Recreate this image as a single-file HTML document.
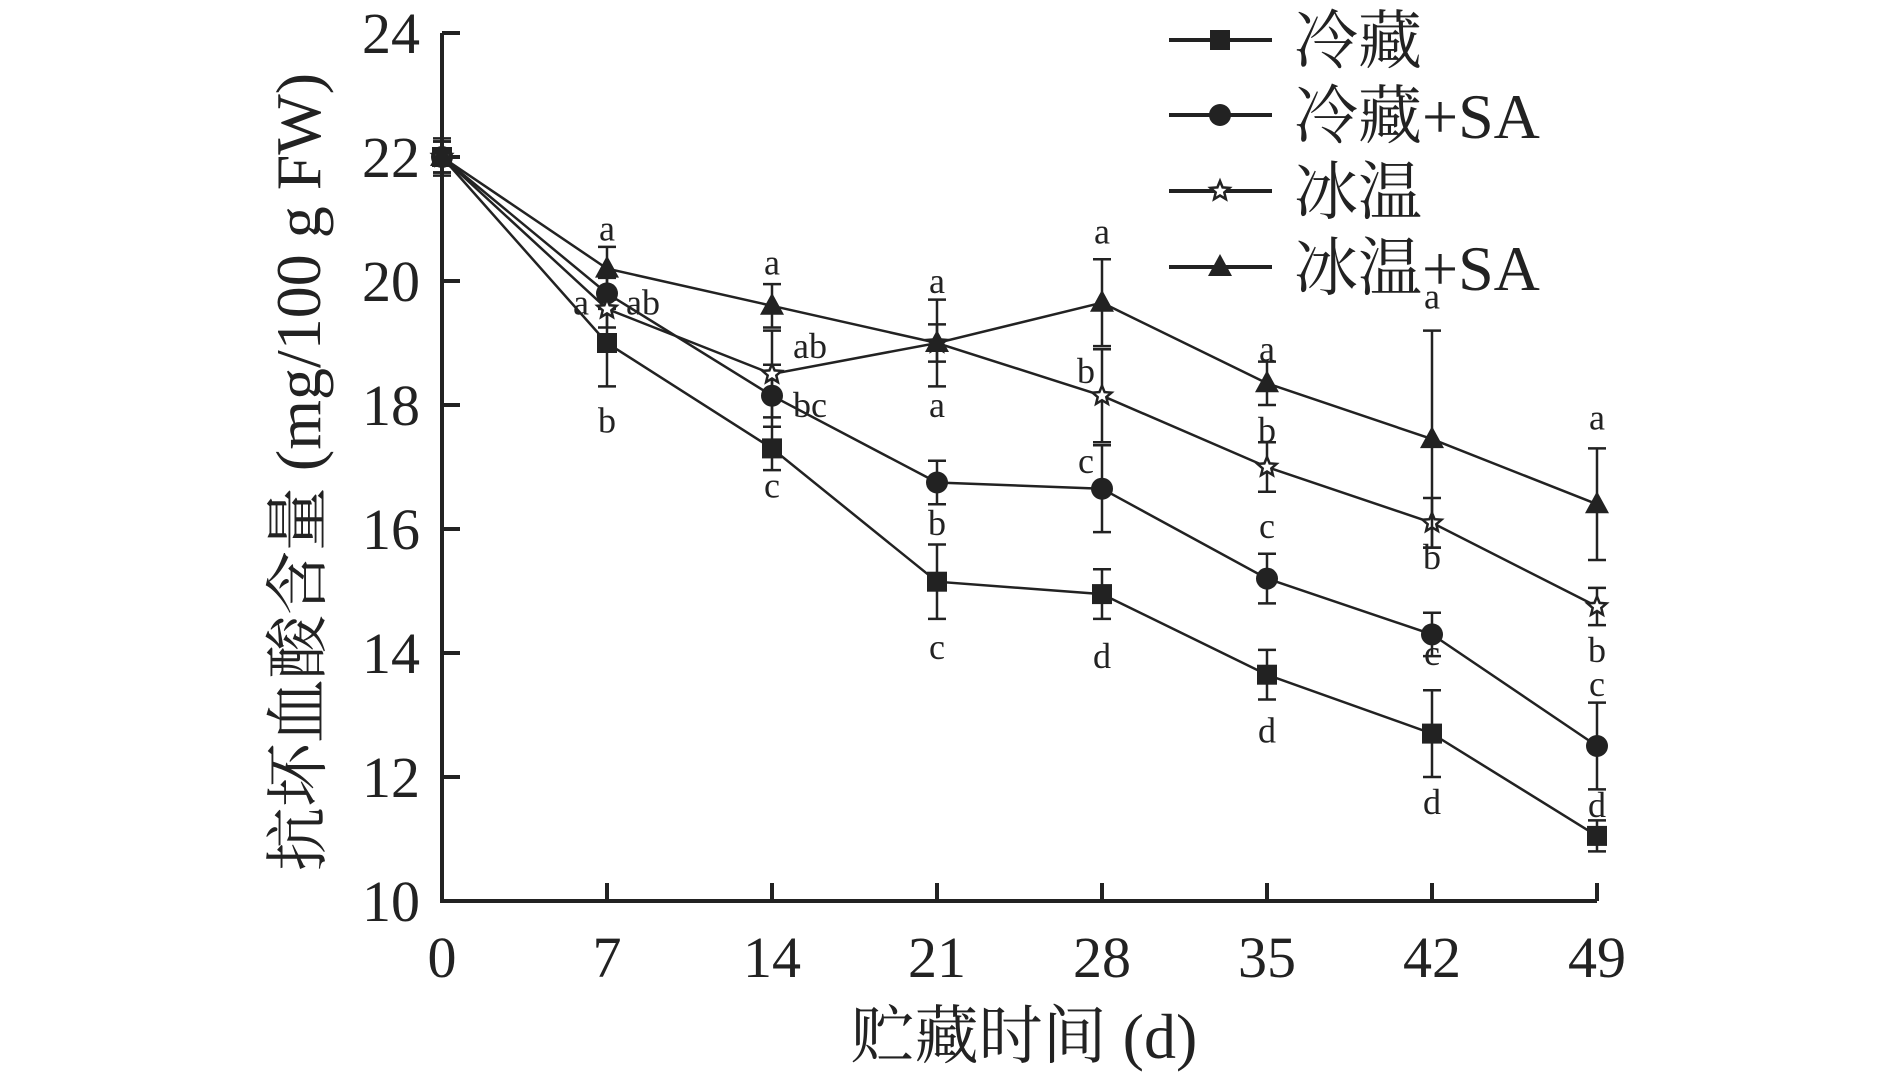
<!DOCTYPE html>
<html><head><meta charset="utf-8"><style>
html,body{margin:0;padding:0;background:#fff;}
svg{display:block;font-family:"Liberation Serif","Noto Serif CJK SC",serif;}
</style></head><body>
<svg id="chart" width="1890" height="1075" viewBox="0 0 1890 1075" xmlns="http://www.w3.org/2000/svg"></svg>
<script>
const days=[0,7,14,21,28,35,42,49];
const yTicks=[10,12,14,16,18,20,22,24];
const seriesNames=["冷藏","冷藏+SA","冰温","冰温+SA"];
const lc=[22,19.0,17.3,15.15,14.95,13.65,12.7,11.05];
const lcErr=[0.25,0.7,0.35,0.6,0.4,0.4,0.7,0.25];
const lcsa=[22,19.8,18.15,16.75,16.65,15.2,14.3,12.5];
const lcsaErr=[0.25,0.25,0.5,0.35,0.7,0.4,0.35,0.7];
const bw=[22,19.55,18.5,19.0,18.15,17.0,16.1,14.75];
const bwErr=[0.25,0.3,0.7,0.3,0.75,0.4,0.4,0.3];
const bwsa=[22,20.2,19.6,19.0,19.65,18.35,17.45,16.4];
const bwsaErr=[0.3,0.35,0.35,0.7,0.7,0.35,1.75,0.9];
const letterText=["a","a","ab","b","a","ab","bc","c","a","a","b","c","a","b","c","d","a","b","c","d","a","b","c","d","a","b","c","d"];
const letterDay=[7,7,7,7,14,14,14,14,21,21,21,21,28,28,28,28,35,35,35,35,42,42,42,42,49,49,49,49];
const letterVal=[20.85,19.65,19.65,17.75,20.3,18.95,18.0,16.7,20.0,18.0,16.1,14.1,20.8,18.55,17.1,13.95,18.9,17.6,16.05,12.75,19.75,15.55,14.0,11.6,17.8,14.05,13.5,11.55];
const letterDx=[0,-26,36,0,0,38,38,0,0,0,0,0,0,-16,-16,0,0,0,0,0,0,0,0,0,0,0,0,0];

const NS="http://www.w3.org/2000/svg";
const svg=document.getElementById('chart');
const X=d=>442+(d/49)*(1597-442);
const Y=v=>901-(v-10)/14*(901-33);
function mk(tag,attrs,parent){const e=document.createElementNS(NS,tag);for(const k in attrs)e.setAttribute(k,attrs[k]);(parent||svg).appendChild(e);return e;}

const ax=mk('path',{d:`M${X(0)} ${Y(24)} L${X(0)} ${Y(10)} L${X(49)} ${Y(10)}`,fill:'none',stroke:'#222','stroke-width':4});


yTicks.forEach(t=>{
  const tk=mk('line',{x1:X(0),x2:X(0)+18,y1:Y(t),y2:Y(t),stroke:'#222','stroke-width':4});
  
  
  const tl=mk('text',{x:420,y:Y(t)+20,'text-anchor':'end','font-size':58,fill:'#222'});
  tl.textContent=t;
  
  
});
days.forEach(d=>{
  if(d>0){const tk=mk('line',{x1:X(d),x2:X(d),y1:Y(10),y2:Y(10)-18,stroke:'#222','stroke-width':4});
  
  }
  const tl=mk('text',{x:X(d),y:977,'text-anchor':'middle','font-size':58,fill:'#222'});
  tl.textContent=d;
  
  
});
const xt=mk('text',{x:1024,y:1058,'text-anchor':'middle','font-size':64,fill:'#222'});
xt.textContent='贮藏时间 (d)';


const yt=mk('text',{x:0,y:0,'text-anchor':'middle','font-size':64,fill:'#222',transform:'translate(320,472) rotate(-90)'});
yt.textContent='抗坏血酸含量 (mg/100 g FW)';



function marker(type,x,y,parent){
  if(type==0)return mk('rect',{x:x-10,y:y-10,width:20,height:20,fill:'#222'},parent);
  if(type==1)return mk('circle',{cx:x,cy:y,r:11,fill:'#222'},parent);
  if(type==2){let p=[];for(let i=0;i<10;i++){const r=i%2?4.5:10,a=-Math.PI/2+i*Math.PI/5;p.push((x+r*Math.cos(a)).toFixed(1)+','+(y+r*Math.sin(a)).toFixed(1));}
    return mk('polygon',{points:p.join(' '),fill:'#fff',stroke:'#222','stroke-width':2.5},parent);}
  return mk('polygon',{points:`${x},${y-13} ${x-12},${y+9} ${x+12},${y+9}`,fill:'#222'},parent);
}
const allVals=[lc,lcsa,bw,bwsa], allErr=[lcErr,lcsaErr,bwErr,bwsaErr];
const snames=['series-cold','series-cold-sa','series-ice','series-ice-sa'];
allVals.forEach((vals,s)=>{
  const g=mk('g',{});
  
  
  mk('polyline',{points:days.map((d,i)=>X(d)+','+Y(vals[i])).join(' '),fill:'none',stroke:'#222','stroke-width':2.5},g);
  days.forEach((d,i)=>{
    const e=allErr[s][i],x=X(d);
    mk('path',{d:`M${x} ${Y(vals[i]+e)} L${x} ${Y(vals[i]-e)} M${x-9} ${Y(vals[i]+e)} L${x+9} ${Y(vals[i]+e)} M${x-9} ${Y(vals[i]-e)} L${x+9} ${Y(vals[i]-e)}`,stroke:'#222','stroke-width':2.5,fill:'none'},g);
    const m=marker(s,x,Y(vals[i]),g);
    
    
  });
});
letterText.forEach((t,i)=>{
  const tx=mk('text',{x:X(letterDay[i])+letterDx[i],y:Y(letterVal[i])+12,'text-anchor':'middle','font-size':36,fill:'#222'});
  tx.textContent=t;
  
  
});
const rowsY=[40,115,191,267];
seriesNames.forEach((n,s)=>{
  const g=mk('g',{});
  
  
  mk('line',{x1:1169,x2:1272,y1:rowsY[s],y2:rowsY[s],stroke:'#222','stroke-width':4},g);
  marker(s,1220,rowsY[s],g);
  const t=mk('text',{x:1294,y:rowsY[s]+23,'font-size':64,fill:'#222'},g);
  t.textContent=n;
});
</script>
</body></html>
